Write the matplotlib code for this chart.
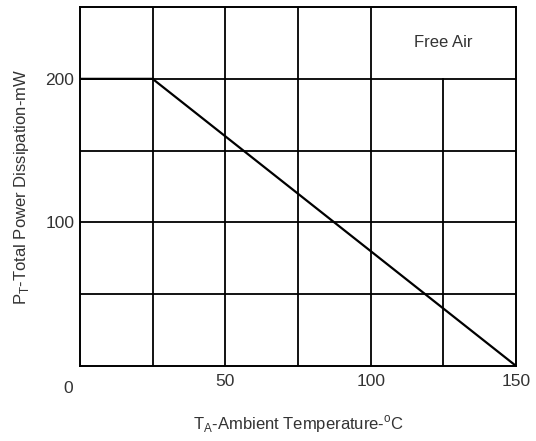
import matplotlib
matplotlib.use("Agg")
import matplotlib.pyplot as plt

plt.rcParams['font.family'] = ['Liberation Sans', 'DejaVu Sans']

# derating curve
temp = [0, 25, 150]
power = [200, 200, 0]

x_grid = [25, 50, 75, 100, 125]
y_grid = [50, 100, 150, 200]
x_ticks = [50, 100, 150]
y_ticks = [100, 200]

fig = plt.figure(figsize=(5.36, 4.41), dpi=100)
ax = fig.add_axes([0.149, 0.170, 0.814, 0.814])
ax.set_xlim(0, 150)
ax.set_ylim(0, 250)

for x in x_grid:
    # the 125 line stops under the "Free Air" box
    top = 200 / 250 if x == 125 else 1
    ax.axvline(x, ymax=top, color='black', lw=1.3, zorder=1)
for y in y_grid:
    ax.axhline(y, color='black', lw=1.3, zorder=1)

ax.plot(temp, power, color='black', lw=1.6, zorder=2)

for s in ax.spines.values():
    s.set_linewidth(1.4)

ax.set_xticks(x_ticks)
ax.set_yticks(y_ticks)
ax.tick_params(length=0, labelsize=12.5, labelcolor='#333333')
ax.tick_params(axis='x', pad=6)
ax.tick_params(axis='y', pad=4)
ax.text(-0.027, -0.042, '0', transform=ax.transAxes, ha='center', va='top',
        fontsize=12.5, color='#333333')

ax.text(125, 225, 'Free Air', ha='center', va='center', fontsize=12, color='#333333')

ax.set_xlabel(r'T$_\mathregular{A}$-Ambient Temperature-$^\mathregular{o}$C',
              fontsize=12, color='#333333', labelpad=17)
ax.set_ylabel(r'P$_\mathregular{T}$-Total Power Dissipation-mW',
              fontsize=12, color='#333333')
ax.yaxis.set_label_coords(-0.112, 0.5)

fig.savefig('out.png', dpi=100)
